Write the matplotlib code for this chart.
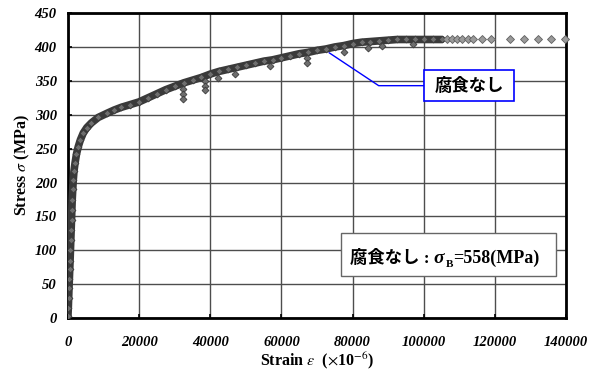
import matplotlib
matplotlib.use("Agg")
import matplotlib.pyplot as plt
from matplotlib.patches import Rectangle

plt.rcParams['mathtext.fontset'] = 'stix'

# measured curve (strain x1e-6, stress MPa)
strain = [0, 100, 200, 300, 400, 500, 600, 700, 800, 900, 1000, 1100, 1200, 1350,
          1500, 1700, 2000, 2400, 2900, 3500, 4300, 5300, 6600, 8500, 10900, 13000,
          15000, 17500, 20000, 22500, 25000, 27500, 30000, 32500, 35000, 37500,
          40000, 42500, 45000, 47500, 50000, 52500, 55000, 57500, 60000, 62500,
          65000, 67500, 70000, 72500, 75000, 77500, 80000, 82500, 85000, 87500,
          90000, 92500, 95000, 97500, 100000, 102500, 105000]
stress = [3, 15, 30, 45, 58, 72, 85, 100, 115, 130, 145, 160, 175, 190,
          204, 217, 229, 242, 253, 263, 273, 281, 288, 296, 302, 307,
          311, 315, 319, 325, 331, 337, 342, 347, 351, 355,
          360, 364, 367, 370, 373, 376, 379, 381, 384, 387,
          390, 392, 395, 397, 400, 402, 405, 407, 408, 409,
          410, 411, 411, 411, 411, 411, 411]

# scattered points below the band
dip_strain = [32300, 32300, 32300, 38500, 38500, 38500, 42200, 46900, 56800,
              67100, 67100, 77500, 84300, 88200, 97000]
dip_stress = [338, 330, 323, 350, 343, 336, 354, 360, 372,
              383, 377, 392, 399, 401, 404]

# sparse points after the band
tail_strain = [106450, 107860, 109270, 110840, 112360, 113930, 116470, 118900,
               124250, 128190, 132120, 135690, 139720]
tail_stress = [411, 411, 411, 411, 411, 411, 411, 411, 411, 411, 411, 411, 411]

x_ticks = [0, 20000, 40000, 60000, 80000, 100000, 120000, 140000]
y_ticks = [0, 50, 100, 150, 200, 250, 300, 350, 400, 450]

serif = 'Liberation Serif'
cjk = ['Liberation Serif', 'Noto Sans CJK JP']

fig = plt.figure(figsize=(5.96, 3.73), dpi=100)
ax = fig.add_axes([0.114, 0.147, 0.836, 0.818])

ax.plot(strain, stress, color='#3a3a3a', lw=5.5, zorder=3, solid_capstyle='round')
ax.plot(strain, stress, ls='none', marker='D', ms=3.5, mfc='#6e6e6e', mec='#3a3a3a',
        mew=0.6, zorder=4)
ax.plot(dip_strain, dip_stress, ls='none', marker='D', ms=3.5, mfc='#6e6e6e',
        mec='#3a3a3a', mew=0.6, zorder=4)
ax.plot(tail_strain, tail_stress, ls='none', marker='D', ms=4, mfc='#9a9a9a',
        mec='#606060', mew=0.6, zorder=4, clip_on=False)

ax.set_xlim(0, 140000)
ax.set_ylim(0, 450)
ax.set_xticks(x_ticks)
ax.set_yticks(y_ticks)
ax.set_xticklabels([str(v) for v in x_ticks])
ax.set_yticklabels([str(v) for v in y_ticks])
ax.grid(True, color='#4d4d4d', lw=1)
ax.set_axisbelow(True)
for s in ax.spines.values():
    s.set_linewidth(2)
    s.set_color('black')
ax.tick_params(axis='both', length=3, direction='in', width=1.2)
ax.tick_params(axis='x', pad=13)
ax.tick_params(axis='y', pad=8)
for lab in ax.get_xticklabels() + ax.get_yticklabels():
    lab.set_fontfamily(serif)
    lab.set_fontweight('bold')
    lab.set_fontstyle('italic')
    lab.set_fontsize(10.5)

ax.set_ylabel(r'Stress $\sigma$ (MPa)', fontfamily=serif, fontweight='bold',
              fontsize=11.5, labelpad=2)
ax.set_xlabel(r'Strain $\varepsilon$  ($\times$10$^{-6}$)', fontfamily=serif,
              fontweight='bold', fontsize=11.5, labelpad=1)

# callout for the curve
ax.annotate('', xy=(73400, 391.4), xycoords='data', xytext=(0.715, 0.762),
            textcoords='axes fraction',
            arrowprops=dict(arrowstyle='-', color='#0000ff', lw=1, shrinkA=0, shrinkB=0,
                            connectionstyle='angle,angleA=0,angleB=-33.6,rad=0'))
ax.add_patch(Rectangle((0.715, 0.712), 0.181, 0.101, transform=ax.transAxes,
                       facecolor='white', edgecolor='#0000ff', lw=1.2, zorder=5))
ax.text(0.8055, 0.760, '腐食なし', transform=ax.transAxes, ha='center', va='center',
        fontfamily='Noto Sans CJK JP', fontweight='bold', fontstyle='italic',
        fontsize=12.5, zorder=6)

# strength box
ax.add_patch(Rectangle((0.548, 0.138), 0.432, 0.140, transform=ax.transAxes,
                       facecolor='white', edgecolor='#666666', lw=1, zorder=5))
t1 = ax.text(0.566, 0.180, '腐食なし : ', transform=ax.transAxes, ha='left',
             va='baseline', fontfamily=cjk, fontweight='bold', fontsize=12.5, zorder=6)
t2 = ax.annotate('σ', xy=(1, 0), xycoords=t1, xytext=(0, 0), textcoords='offset points',
                 ha='left', va='bottom', fontfamily=serif, fontweight='bold',
                 fontstyle='italic', fontsize=14, zorder=6)
t3 = ax.annotate('B', xy=(1, 0), xycoords=t2, xytext=(1, -1), textcoords='offset points',
                 ha='left', va='bottom', fontfamily=serif, fontweight='bold',
                 fontsize=8, zorder=6)
t4 = ax.annotate('=558(MPa)', xy=(1, 0), xycoords=t3, xytext=(0, 1),
                 textcoords='offset points', ha='left', va='bottom', fontfamily=serif,
                 fontweight='bold', fontsize=13, zorder=6)

fig.savefig('out.png', dpi=100)
